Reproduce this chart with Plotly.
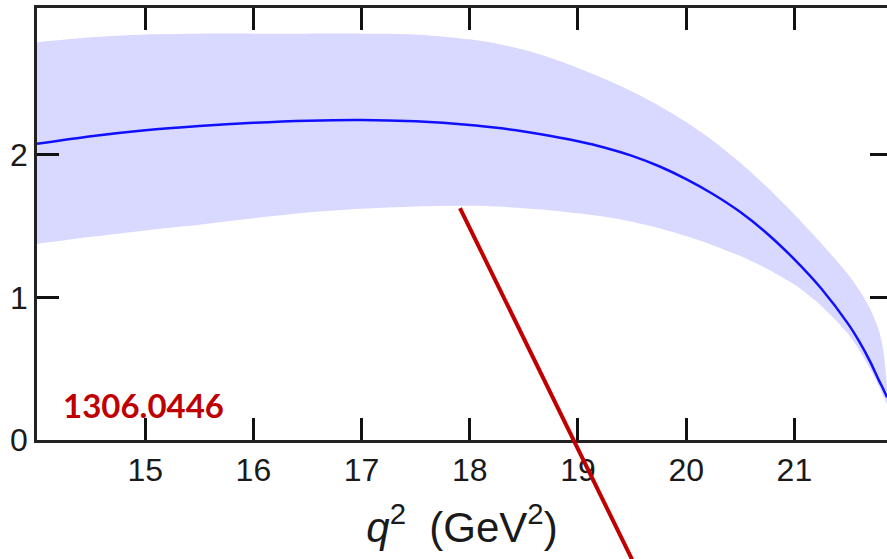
import plotly.graph_objects as go

# q^2 grid (GeV^2) and form-factor curve with its uncertainty band
q2 = [14.0, 14.5, 15.0, 15.5, 16.0, 16.5, 17.0, 17.5, 18.0, 18.25, 18.5, 18.75,
      19.0, 19.25, 19.5, 19.75, 20.0, 20.25, 20.5, 20.75, 21.0, 21.25, 21.5, 21.6,
      21.7, 21.78, 21.82, 21.856]
central = [2.077, 2.13, 2.172, 2.202, 2.225, 2.24, 2.245, 2.235, 2.21, 2.19, 2.164, 2.132,
           2.095, 2.05, 1.993, 1.92, 1.83, 1.724, 1.599, 1.447, 1.267, 1.061, 0.811, 0.69,
           0.55, 0.42, 0.36, 0.30]
upper = [2.79, 2.825, 2.845, 2.85, 2.85, 2.85, 2.85, 2.845, 2.81, 2.78, 2.737, 2.68,
         2.61, 2.532, 2.445, 2.345, 2.23, 2.098, 1.945, 1.772, 1.582, 1.378, 1.158, 1.05,
         0.92, 0.77, 0.64, 0.38]
lower = [1.375, 1.425, 1.47, 1.51, 1.555, 1.595, 1.622, 1.638, 1.643, 1.637, 1.625, 1.61,
         1.59, 1.565, 1.53, 1.485, 1.43, 1.365, 1.29, 1.20, 1.09, 0.94, 0.74, 0.63,
         0.50, 0.38, 0.31, 0.25]

x_ticks = [15, 16, 17, 18, 19, 20, 21]
y_ticks = [0, 1, 2]

BAND = "#d9d9ff"
LINE = "#1010ff"
FONT_FAMILY = "Liberation Sans, Arial, sans-serif"
AXIS_FONT = dict(family=FONT_FAMILY, size=32, color="#1a1a1a")
SMOOTH = dict(shape="spline", smoothing=0.8)

fig = go.Figure()
fig.add_trace(go.Scatter(x=q2, y=upper, mode="lines", line=dict(width=0, **SMOOTH),
                         hoverinfo="skip", showlegend=False))
fig.add_trace(go.Scatter(x=q2, y=lower, mode="lines", line=dict(width=0, **SMOOTH),
                         fill="tonexty", fillcolor=BAND, hoverinfo="skip", showlegend=False))
fig.add_trace(go.Scatter(x=q2, y=central, mode="lines",
                         line=dict(color=LINE, width=2.5, **SMOOTH), showlegend=False))
# invisible trace to carry the right-hand tick axis
fig.add_trace(go.Scatter(x=[q2[0]], y=[0], yaxis="y2", mode="markers",
                         marker=dict(opacity=0), hoverinfo="skip", showlegend=False))

fig.update_layout(
    width=887, height=559,
    margin=dict(l=37, r=0, t=8, b=119),
    paper_bgcolor="white", plot_bgcolor="white",
    xaxis=dict(range=[14.0, 21.856], tickvals=x_ticks, ticks="inside", ticklen=22,
               tickwidth=3, tickcolor="#111", showline=True, linewidth=2.5, linecolor="#222",
               mirror="ticks", showgrid=False, zeroline=False, tickfont=AXIS_FONT,
               title=dict(text="<i>q</i><sup>2</sup>  (GeV<sup>2</sup>)",
                          font=dict(family=FONT_FAMILY, size=42, color="#1a1a1a"),
                          standoff=26)),
    yaxis=dict(range=[0, 3.03], tickvals=y_ticks, ticks="inside",
               ticklen=22, tickwidth=3, tickcolor="#111", showline=True, linewidth=2.5,
               linecolor="#222", mirror=False, showgrid=False, zeroline=False,
               tickfont=AXIS_FONT),
    yaxis2=dict(range=[0, 3.03], overlaying="y", side="right", tickvals=y_ticks,
                ticks="inside", ticklen=17, tickwidth=3, tickcolor="#111",
                showticklabels=False, showline=False, showgrid=False, zeroline=False),
    annotations=[dict(text="<b>1306.0446</b>", xref="paper", yref="paper",
                      x=0.028, y=0.082, xanchor="left", yanchor="middle", showarrow=False,
                      font=dict(family="Lato, sans-serif", size=33, color="#c00000"))],
    shapes=[dict(type="line", xref="paper", yref="paper", x0=0.4976, y0=0.537,
                 x1=0.709, y1=-0.3125, line=dict(color="#c00000", width=4), layer="above")],
)

fig.write_html("out.html")
